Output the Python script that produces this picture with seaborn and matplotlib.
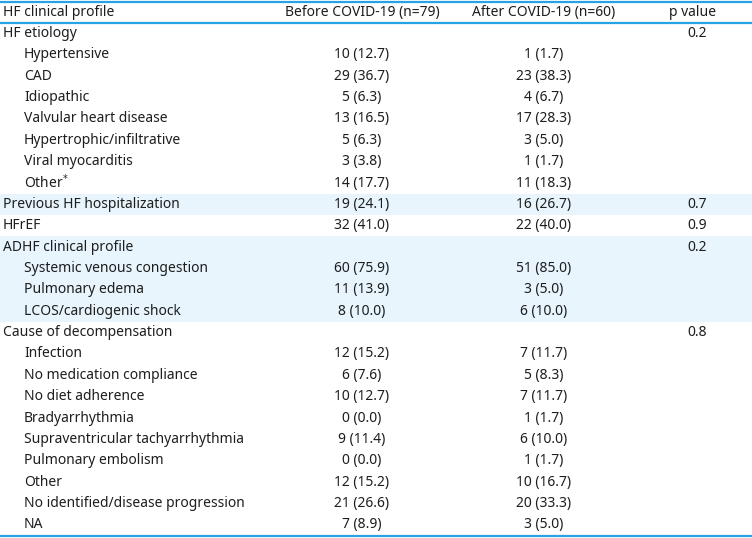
import numpy as np
import seaborn as sns
import matplotlib.pyplot as plt
from matplotlib.colors import ListedColormap

# table content
headers = ['HF clinical profile', 'Before COVID-19 (n=79)', 'After COVID-19 (n=60)', 'p value']
labels = ['HF etiology', 'Hypertensive', 'CAD', 'Idiopathic', 'Valvular heart disease',
          'Hypertrophic/infiltrative', 'Viral myocarditis', 'Other$^{*}$',
          'Previous HF hospitalization', 'HFrEF', 'ADHF clinical profile',
          'Systemic venous congestion', 'Pulmonary edema', 'LCOS/cardiogenic shock',
          'Cause of decompensation', 'Infection', 'No medication compliance',
          'No diet adherence', 'Bradyarrhythmia', 'Supraventricular tachyarrhythmia',
          'Pulmonary embolism', 'Other', 'No identified/disease progression', 'NA']
indent = [0, 1, 1, 1, 1, 1, 1, 1, 0, 0, 0, 1, 1, 1, 0, 1, 1, 1, 1, 1, 1, 1, 1, 1]
before = ['', '10 (12.7)', '29 (36.7)', '5 (6.3)', '13 (16.5)', '5 (6.3)', '3 (3.8)', '14 (17.7)',
          '19 (24.1)', '32 (41.0)', '', '60 (75.9)', '11 (13.9)', '8 (10.0)',
          '', '12 (15.2)', '6 (7.6)', '10 (12.7)', '0 (0.0)', '9 (11.4)', '0 (0.0)',
          '12 (15.2)', '21 (26.6)', '7 (8.9)']
after = ['', '1 (1.7)', '23 (38.3)', '4 (6.7)', '17 (28.3)', '3 (5.0)', '1 (1.7)', '11 (18.3)',
         '16 (26.7)', '22 (40.0)', '', '51 (85.0)', '3 (5.0)', '6 (10.0)',
         '', '7 (11.7)', '5 (8.3)', '7 (11.7)', '1 (1.7)', '6 (10.0)', '1 (1.7)',
         '10 (16.7)', '20 (33.3)', '3 (5.0)']
pvals = ['0.2', '', '', '', '', '', '', '', '0.7', '0.9', '0.2', '', '', '',
         '0.8', '', '', '', '', '', '', '', '', '']
shaded = [0, 0, 0, 0, 0, 0, 0, 0, 1, 0, 1, 1, 1, 1, 0, 0, 0, 0, 0, 0, 0, 0, 0, 0]

line_c = '#27a3e3'
shade_c = '#e8f5fd'
txt_c = '#1e1e1e'

sns.set_theme(style='white')
plt.rcParams['font.family'] = ['Noto Sans', 'DejaVu Sans']

fig = plt.figure(figsize=(7.52, 5.38), dpi=100)
ax = fig.add_axes([0, 2.5 / 538, 1, 534 / 538])

grid = np.array(shaded).reshape(-1, 1)
sns.heatmap(grid, cmap=ListedColormap(['white', shade_c]), cbar=False,
            xticklabels=False, yticklabels=False, ax=ax, vmin=0, vmax=1)
n = len(labels)
ax.set_xlim(0, 752)
ax.set_ylim(n, -1)
# stretch the heatmap mesh over the full width
for coll in ax.collections:
    coll.set_transform(plt.matplotlib.transforms.Affine2D().scale(752, 1) + ax.transData)
ax.axis('off')

fs = 10
ax.text(3, -0.5, headers[0], va='center', ha='left', fontsize=fs, color=txt_c)
ax.text(362, -0.5, headers[1], va='center', ha='center', fontsize=fs, color=txt_c)
ax.text(544, -0.5, headers[2], va='center', ha='center', fontsize=fs, color=txt_c)
ax.text(693, -0.5, headers[3], va='center', ha='center', fontsize=fs, color=txt_c)

for i in range(n):
    y = i + 0.5
    x = 24 if indent[i] else 3
    ax.text(x, y, labels[i], va='center', ha='left', fontsize=fs, color=txt_c)
    ax.text(362, y, before[i], va='center', ha='center', fontsize=fs, color=txt_c)
    ax.text(544, y, after[i], va='center', ha='center', fontsize=fs, color=txt_c)
    ax.text(697, y, pvals[i], va='center', ha='center', fontsize=fs, color=txt_c)

for yy in (-1, 0, n):
    ax.axhline(yy, color=line_c, lw=1.6, clip_on=False)

fig.savefig('out.png', dpi=100)
